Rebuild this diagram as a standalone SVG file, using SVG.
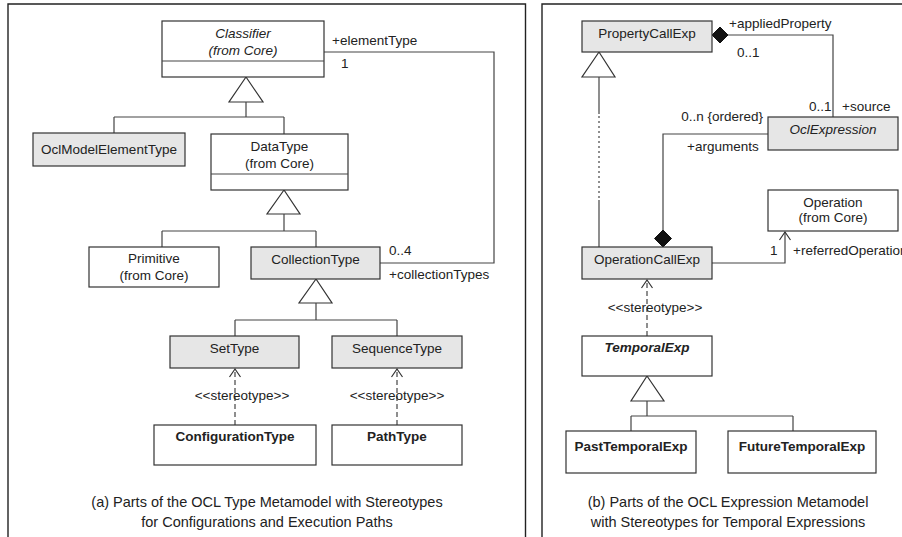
<svg xmlns="http://www.w3.org/2000/svg" width="902" height="537" viewBox="0 0 902 537">
<defs>
<style>
.frame{fill:none;stroke:#222;stroke-width:1.4}
.box{fill:#fff;stroke:#333;stroke-width:1.2}
.gbox{fill:#e6e6e6;stroke:#333;stroke-width:1.2}
.ln{fill:none;stroke:#444;stroke-width:1.2}
.dash{fill:none;stroke:#444;stroke-width:1.2;stroke-dasharray:5,3}
.dot{fill:none;stroke:#444;stroke-width:1.2;stroke-dasharray:2,3}
.tri{fill:#fff;stroke:#333;stroke-width:1.2}
.dia{fill:#111;stroke:#111;stroke-width:1}
text{font-family:"Liberation Sans",Arial,sans-serif;font-size:13.5px;fill:#222}
.c{text-anchor:middle}
.i{font-style:italic}
.b{font-weight:bold}
.cap{font-size:14.5px;text-anchor:middle}
</style>
<marker id="open" markerWidth="12" markerHeight="14" refX="10" refY="7" orient="auto" markerUnits="userSpaceOnUse" viewBox="0 0 12 14">
<path d="M2,1.5 L10,7 L2,12.5" fill="none" stroke="#333" stroke-width="1.2"/>
</marker>
</defs>

<!-- frames -->
<path class="frame" d="M8,537 V4 H525.5 V537"/>
<path class="frame" d="M542,537 V4 H902"/>

<!-- connectors -->
<g id="connectors">
  <!-- left generalizations -->
  <polygon class="tri" points="246,77 229,102 263,102"/>
  <path class="ln" d="M246,102 V117 M114,117 H284 M114,117 V133 M284,117 V134"/>
  <polygon class="tri" points="284,190 267,214 300,214"/>
  <path class="ln" d="M284,214 V231 M162,231 H316 M162,231 V247 M316,231 V247"/>
  <polygon class="tri" points="316,279 299,303 332,303"/>
  <path class="ln" d="M316,303 V320 M235,320 H397 M235,320 V336 M397,320 V336"/>
  <!-- association elementType/collectionTypes -->
  <path class="ln" d="M324,52 H494 V263 H380"/>
  <text x="332" y="45">+elementType</text>
  <text x="341" y="68">1</text>
  <text x="389" y="255">0..4</text>
  <text x="389" y="279">+collectionTypes</text>
  <!-- stereotype dependencies left -->
  <path class="dash" d="M235,425 V369" marker-end="url(#open)"/>
  <text class="c" x="242" y="400">&lt;&lt;stereotype&gt;&gt;</text>
  <path class="dash" d="M397,425 V369" marker-end="url(#open)"/>
  <text class="c" x="397" y="400">&lt;&lt;stereotype&gt;&gt;</text>

  <!-- right: generalization PropertyCallExp <- OperationCallExp -->
  <polygon class="tri" points="599,52 582,77 615,77"/>
  <path class="ln" d="M599,77 V114"/>
  <path class="dot" d="M599,116 V200"/>
  <path class="ln" d="M599,200 V247"/>
  <!-- appliedProperty/source composition -->
  <path class="ln" d="M728,35 H833 V117"/>
  <polygon class="dia" points="712,35 720,27 728,35 720,43"/>
  <text x="729" y="28">+appliedProperty</text>
  <text x="737" y="57">0..1</text>
  <text x="809" y="111">0..1</text>
  <text x="842" y="111">+source</text>
  <!-- arguments composition -->
  <path class="ln" d="M768,134 H663 V230"/>
  <polygon class="dia" points="663,230 671.5,238.5 663,247 654.5,238.5"/>
  <text x="763" y="121" text-anchor="end">0..n {ordered}</text>
  <text x="687" y="151">+arguments</text>
  <!-- referredOperation -->
  <path class="ln" d="M712,263 H785 V232" marker-end="url(#open)"/>
  <text x="770" y="255">1</text>
  <text x="793" y="255">+referredOperation</text>
  <!-- stereotype TemporalExp -->
  <path class="dash" d="M647,336 V280" marker-end="url(#open)"/>
  <text class="c" x="655" y="312">&lt;&lt;stereotype&gt;&gt;</text>
  <!-- temporal generalization -->
  <polygon class="tri" points="647,376 631,401 664,401"/>
  <path class="ln" d="M647,401 V416 M631,416 H793 M631,416 V431 M793,416 V431"/>
</g>

<!-- left nodes -->
<g id="Classifier">
  <rect class="box" x="162" y="21" width="162" height="56"/>
  <line class="ln" x1="162" y1="61" x2="324" y2="61"/>
  <text class="c i" x="243" y="38">Classifier</text>
  <text class="c i" x="243" y="55">(from Core)</text>
</g>
<g id="OclModelElementType">
  <rect class="gbox" x="33" y="133" width="152" height="33"/>
  <text class="c" x="109" y="154">OclModelElementType</text>
</g>
<g id="DataType">
  <rect class="box" x="211" y="134" width="137" height="56"/>
  <line class="ln" x1="211" y1="174" x2="348" y2="174"/>
  <text class="c" x="279.5" y="151">DataType</text>
  <text class="c" x="279.5" y="168">(from Core)</text>
</g>
<g id="Primitive">
  <rect class="box" x="89" y="247" width="130" height="40"/>
  <text class="c" x="154" y="263">Primitive</text>
  <text class="c" x="154" y="280">(from Core)</text>
</g>
<g id="CollectionType">
  <rect class="gbox" x="251" y="247" width="129" height="32"/>
  <text class="c" x="315.5" y="264">CollectionType</text>
</g>
<g id="SetType">
  <rect class="gbox" x="170" y="336" width="129" height="32"/>
  <text class="c" x="234.5" y="353">SetType</text>
</g>
<g id="SequenceType">
  <rect class="gbox" x="332" y="336" width="130" height="32"/>
  <text class="c" x="397" y="353">SequenceType</text>
</g>
<g id="ConfigurationType">
  <rect class="box" x="154" y="425" width="162" height="40"/>
  <text class="c b" x="235" y="441">ConfigurationType</text>
</g>
<g id="PathType">
  <rect class="box" x="332" y="425" width="130" height="40"/>
  <text class="c b" x="397" y="441">PathType</text>
</g>
<text class="cap" x="267" y="507">(a) Parts of the OCL Type Metamodel with Stereotypes</text>
<text class="cap" x="267" y="527">for Configurations and Execution Paths</text>

<!-- right nodes -->
<g id="PropertyCallExp">
  <rect class="gbox" x="582" y="21" width="130" height="31"/>
  <text class="c" x="647" y="38">PropertyCallExp</text>
</g>
<g id="OclExpression">
  <rect class="gbox" x="768" y="117" width="130" height="33"/>
  <text class="c i" x="833" y="134">OclExpression</text>
</g>
<g id="Operation">
  <rect class="box" x="768" y="190" width="130" height="41"/>
  <text class="c" x="833" y="207">Operation</text>
  <text class="c" x="833" y="222">(from Core)</text>
</g>
<g id="OperationCallExp">
  <rect class="gbox" x="582" y="247" width="130" height="32"/>
  <text class="c" x="647" y="264">OperationCallExp</text>
</g>
<g id="TemporalExp">
  <rect class="box" x="582" y="336" width="130" height="40"/>
  <text class="c b i" x="647" y="352">TemporalExp</text>
</g>
<g id="PastTemporalExp">
  <rect class="box" x="566" y="431" width="130" height="42"/>
  <text class="c b" x="631" y="451">PastTemporalExp</text>
</g>
<g id="FutureTemporalExp">
  <rect class="box" x="728" y="431" width="148" height="42"/>
  <text class="c b" x="802" y="451">FutureTemporalExp</text>
</g>
<text class="cap" x="728" y="507">(b) Parts of the OCL Expression Metamodel</text>
<text class="cap" x="728" y="527">with Stereotypes for Temporal Expressions</text>
</svg>
